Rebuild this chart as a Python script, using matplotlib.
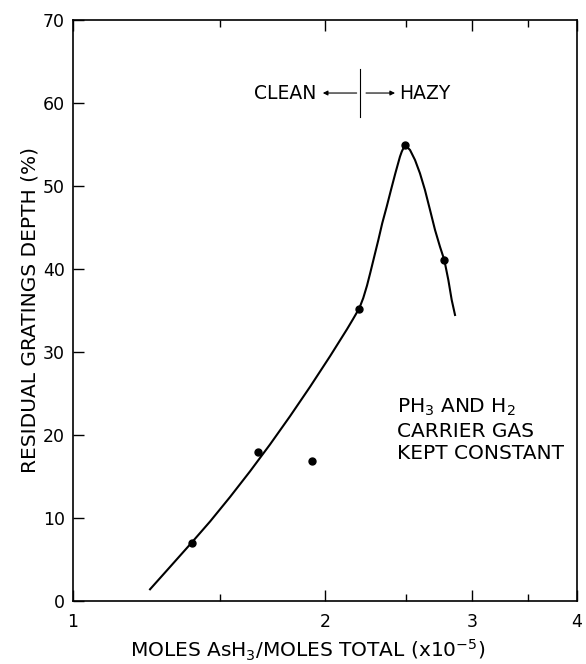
import numpy as np
import matplotlib.pyplot as plt
from matplotlib.ticker import FixedLocator, NullFormatter

# measured points
x_pts = [1.387, 1.665, 1.931, 2.198, 2.492, 2.777]
y_pts = [7.0, 18.0, 16.9, 35.2, 54.9, 41.1]

# hand-drawn curve
x_curve = [1.236, 1.306, 1.387, 1.458, 1.540, 1.627, 1.719, 1.816, 1.919,
           2.028, 2.125, 2.160, 2.198, 2.222, 2.245, 2.266, 2.290, 2.316,
           2.341, 2.370, 2.398, 2.427, 2.458, 2.470, 2.492, 2.527, 2.562,
           2.597, 2.633, 2.670, 2.707, 2.744, 2.777, 2.808, 2.834, 2.860]
y_curve = [1.41, 4.11, 7.07, 9.58, 12.52, 15.61, 18.85, 22.24, 25.79,
           29.49, 32.75, 33.95, 35.27, 36.50, 38.00, 39.60, 41.48, 43.49,
           45.51, 47.51, 49.52, 51.53, 53.53, 54.13, 54.94, 54.34, 53.13,
           51.53, 49.52, 47.11, 44.70, 42.69, 41.08, 38.67, 36.27, 34.46]

x_major = [1, 2, 3, 4]
x_minor = [1.5, 2.5, 3.5]
y_ticks = [0, 10, 20, 30, 40, 50, 60, 70]

plt.rcParams['font.family'] = ['DejaVu Sans']

fig = plt.figure(figsize=(5.86, 6.64), dpi=100)
ax = fig.add_axes([0.1246, 0.0949, 0.86, 0.875])

ax.plot(x_curve, y_curve, color='black', lw=1.5)
ax.plot(x_pts, y_pts, 'o', color='black', ms=5)

ax.set_xscale('log')
ax.set_xlim(1, 4)
ax.set_ylim(0, 70)
ax.xaxis.set_major_locator(FixedLocator(x_major))
ax.xaxis.set_minor_locator(FixedLocator(x_minor))
ax.xaxis.set_minor_formatter(NullFormatter())
ax.set_xticklabels([str(v) for v in x_major])
ax.set_yticks(y_ticks)
ax.tick_params(axis='x', which='major', direction='in', length=8, width=1,
               top=True, bottom=True, labelsize=12.5, pad=9)
ax.tick_params(axis='x', which='minor', direction='in', length=5, width=1,
               top=True, bottom=True)
ax.tick_params(axis='y', direction='in', length=8, width=1, right=False,
               labelsize=12.5, pad=6)
for s in ax.spines.values():
    s.set_linewidth(1.2)

ax.set_xlabel('MOLES AsH$_3$/MOLES TOTAL (x10$^{-5}$)', fontsize=14.5)
ax.xaxis.set_label_coords(0.466, -0.064)
ax.set_ylabel('RESIDUAL GRATINGS DEPTH (%)', fontsize=14.5, labelpad=2)

# clean / hazy boundary
ax.plot([2.204, 2.204], [58.3, 64.1], color='black', lw=0.8)
ax.annotate('', xy=(1.988, 61.2), xytext=(2.182, 61.2),
            arrowprops=dict(arrowstyle='-|>', color='black', lw=0.8,
                            mutation_scale=7, shrinkA=0, shrinkB=0))
ax.annotate('', xy=(2.425, 61.2), xytext=(2.239, 61.2),
            arrowprops=dict(arrowstyle='-|>', color='black', lw=0.8,
                            mutation_scale=7, shrinkA=0, shrinkB=0))
ax.text(1.955, 61.2, 'CLEAN', ha='right', va='center', fontsize=13.5)
ax.text(2.454, 61.2, 'HAZY', ha='left', va='center', fontsize=13.5)

ax.text(2.436, 20.6, 'PH$_3$ AND H$_2$\nCARRIER GAS\nKEPT CONSTANT',
        ha='left', va='center', fontsize=14.5, linespacing=1.25)

fig.savefig('out.png', dpi=100)
